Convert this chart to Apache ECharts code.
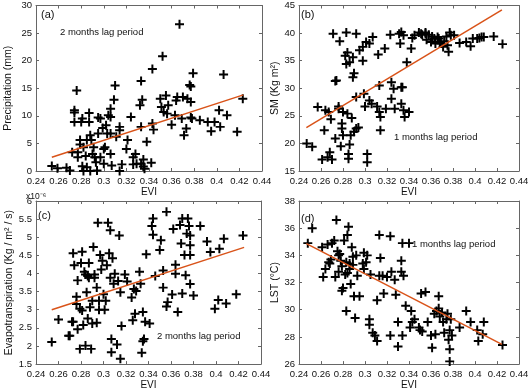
<!DOCTYPE html>
<html>
<head>
<meta charset="utf-8">
<script src="https://cdn.jsdelivr.net/npm/echarts@6/dist/echarts.min.js"></script>
<style>
  html, body { margin: 0; padding: 0; background: #fff; }
  #chart { width: 532px; height: 391px; }
</style>
</head>
<body>
<div id="chart"></div>
<script>
// (a) precipitation vs EVI, 2 months lag
var aEvi = [0.254,0.259,0.267,0.270,0.272,0.274,0.274,0.274,0.276,0.277,
  0.277,0.279,0.279,0.280,0.281,0.281,0.282,0.282,0.284,0.285,
  0.285,0.287,0.287,0.288,0.288,0.289,0.290,0.291,0.292,0.293,
  0.294,0.295,0.295,0.297,0.297,0.299,0.300,0.300,0.301,0.302,
  0.303,0.304,0.306,0.306,0.306,0.306,0.307,0.309,0.310,0.311,
  0.314,0.314,0.314,0.316,0.320,0.321,0.324,0.326,0.326,0.328,
  0.329,0.332,0.333,0.333,0.333,0.334,0.335,0.335,0.336,0.338,
  0.342,0.343,0.343,0.344,0.350,0.351,0.352,0.353,0.355,0.356,
  0.357,0.360,0.363,0.364,0.365,0.367,0.369,0.370,0.371,0.373,
  0.374,0.376,0.377,0.377,0.378,0.377,0.379,0.385,0.392,0.395,
  0.398,0.402,0.403,0.406,0.409,0.418,0.423];
var aPrecip = [0.9,0.5,0.6,0.1,3.4,11.0,8.9,10.6,14.6,2.5,
  3.4,4.8,5.6,8.9,9.5,0.85,4.3,0,2.7,0.7,
  5.6,8.9,10.5,6.5,0,5.6,3.1,4.3,2.5,1.6,
  0.1,9.7,6.8,2.5,9.5,7.8,4.0,1.3,4.3,8.3,
  6.8,10.1,11.3,9.8,6.8,3.1,1.0,12.9,15.5,6.2,
  8.0,7.4,0,1.2,4.0,5.6,9.8,2.5,1.2,3.1,
  1.3,11.9,8.0,16.3,1.3,12.9,2.1,0.8,0.4,5.3,
  1.5,18.5,8.6,7.5,13.1,11.6,20.8,10.7,13.7,10.4,
  11.9,8.4,10.1,12.8,13.4,26.6,9.5,13.4,6.5,7.7,
  13.1,15.6,15.3,9.7,9.5,12.5,17.7,9.2,8.9,7.2,
  8.9,11.0,8.0,17.5,10.1,7.1,13.1];
var fitA = [[0.254, 2.5], [0.4235, 13.8]];

// (b) soil moisture vs EVI, 1 month lag
var bEvi = [0.247,0.252,0.257,0.261,0.263,0.264,0.266,0.267,0.268,0.269,
  0.270,0.271,0.273,0.273,0.274,0.276,0.276,0.277,0.278,0.279,
  0.279,0.280,0.280,0.282,0.283,0.283,0.284,0.284,0.285,0.285,
  0.286,0.286,0.287,0.288,0.289,0.289,0.290,0.290,0.292,0.292,
  0.292,0.294,0.295,0.298,0.298,0.299,0.300,0.301,0.302,0.302,
  0.304,0.304,0.306,0.307,0.311,0.312,0.313,0.313,0.314,0.314,
  0.318,0.319,0.323,0.324,0.324,0.326,0.327,0.331,0.332,0.333,
  0.333,0.333,0.334,0.335,0.335,0.336,0.338,0.340,0.342,0.343,
  0.345,0.349,0.351,0.352,0.355,0.355,0.356,0.358,0.360,0.361,
  0.363,0.364,0.366,0.367,0.368,0.369,0.371,0.372,0.374,0.375,
  0.376,0.377,0.378,0.381,0.386,0.392,0.396,0.398,0.402,0.404,
  0.406,0.408,0.417,0.425];
var bSM = [20.0,19.4,26.6,17.1,22.4,26.0,17.5,25.7,18.4,24.4,
  17.1,39.9,20.9,31.3,31.4,26.7,26.3,38.5,19.5,23.6,
  22.7,21.5,25.7,35.9,40.1,34.4,36.5,25.4,18.1,17.2,
  19.8,34.7,21.5,24.6,35.6,32.0,32.7,22.1,39.9,28.4,
  22.7,22.9,36.9,37.5,35.0,29.0,26.7,38.4,18.1,16.6,
  27.8,38.1,27.2,39.3,26.7,36.1,30.5,25.7,24.8,22.4,
  37.2,26.3,39.7,31.1,28.1,29.9,26.3,39.9,38.1,40.2,
  30.2,27.2,30.2,26.0,39.6,24.8,34.7,25.7,37.2,39.1,
  39.6,40.1,39.9,39.7,40.1,39.9,38.8,39.7,38.4,39.4,
  39.0,38.1,39.3,39.0,38.4,38.1,37.5,38.5,39.4,37.8,
  36.6,40.1,39.6,39.6,38.2,38.4,37.6,39.0,39.0,39.1,
  39.3,39.3,39.4,38.0];
var fitB = [[0.2467, 22.85], [0.4245, 44.2]];

// (c) evapotranspiration (x10^-6) vs EVI, 2 months lag
var cEvi = [0.254,0.260,0.269,0.270,0.272,0.273,0.273,0.274,0.276,0.276,
  0.277,0.277,0.279,0.279,0.280,0.281,0.281,0.282,0.283,0.284,
  0.284,0.285,0.286,0.286,0.287,0.287,0.288,0.289,0.290,0.290,
  0.291,0.292,0.292,0.294,0.294,0.295,0.296,0.296,0.297,0.298,
  0.299,0.300,0.301,0.302,0.303,0.304,0.305,0.306,0.306,0.307,
  0.307,0.308,0.309,0.310,0.312,0.313,0.314,0.315,0.315,0.316,
  0.319,0.321,0.325,0.326,0.327,0.328,0.329,0.332,0.333,0.334,
  0.335,0.335,0.336,0.337,0.338,0.341,0.343,0.344,0.344,0.346,
  0.350,0.351,0.353,0.353,0.356,0.356,0.357,0.361,0.362,0.364,
  0.364,0.366,0.368,0.369,0.370,0.370,0.372,0.373,0.374,0.375,
  0.376,0.377,0.377,0.377,0.377,0.380,0.386,0.392,0.395,0.399,
  0.402,0.403,0.407,0.409,0.418,0.424];
var cET = [2.11,2.73,2.28,2.28,2.67,2.67,4.56,4.23,3.36,3.16,
  3.81,2.46,3.03,1.92,4.29,2.98,4.60,2.58,4.05,3.97,
  2.01,3.48,2.76,3.93,3.88,4.29,3.07,1.92,3.25,2.62,
  4.73,3.97,3.88,3.61,2.64,5.40,3.25,3.00,4.51,4.11,
  4.35,3.43,3.00,3.25,4.23,5.40,4.56,5.19,3.88,2.19,
  1.83,4.42,3.72,3.99,2.04,3.79,5.05,3.48,1.65,2.55,
  3.97,3.78,3.34,2.71,3.57,2.89,3.52,4.05,3.72,1.81,
  2.13,2.94,2.19,2.67,4.53,2.62,5.31,5.52,5.07,3.93,
  4.65,4.92,3.61,4.08,3.09,5.70,3.21,3.42,5.23,4.24,
  3.99,2.94,5.34,4.83,3.45,5.52,4.51,3.95,5.10,5.52,
  5.31,5.05,4.78,4.51,3.71,3.39,5.31,4.88,4.59,3.03,
  3.27,4.68,4.96,3.17,3.43,5.05];
var fitC = [[0.254, 3.0], [0.425, 4.72]];

// (d) land surface temperature vs EVI, 1 month lag
var dEvi = [0.248,0.252,0.261,0.262,0.264,0.266,0.267,0.268,0.269,0.270,
  0.272,0.273,0.274,0.275,0.276,0.276,0.277,0.278,0.279,0.279,
  0.280,0.281,0.282,0.283,0.283,0.284,0.284,0.285,0.286,0.286,
  0.287,0.288,0.289,0.289,0.290,0.291,0.292,0.293,0.295,0.298,
  0.299,0.299,0.301,0.302,0.304,0.304,0.305,0.307,0.309,0.311,
  0.311,0.313,0.313,0.314,0.316,0.317,0.320,0.323,0.323,0.324,
  0.327,0.328,0.330,0.330,0.333,0.333,0.334,0.334,0.335,0.337,
  0.340,0.341,0.342,0.343,0.345,0.349,0.350,0.351,0.352,0.355,
  0.357,0.360,0.361,0.363,0.364,0.365,0.367,0.367,0.368,0.370,
  0.371,0.372,0.374,0.375,0.376,0.377,0.377,0.377,0.378,0.379,
  0.386,0.392,0.396,0.402,0.403,0.407,0.408,0.425];
var dLST = [34.9,36.0,34.6,32.4,33.0,34.8,33.5,33.4,33.7,34.9,
  35.1,32.4,36.6,34.3,34.0,32.8,34.1,33.6,31.4,33.2,
  31.6,35.1,32.6,33.5,29.9,35.5,32.7,36.1,33.4,33.0,
  31.9,34.6,33.9,33.3,31.0,29.4,34.0,32.5,31.0,33.4,
  34.2,33.0,33.5,34.0,29.3,28.9,32.6,28.3,28.1,27.7,
  30.7,35.5,32.5,33.8,32.5,31.2,32.4,35.4,28.1,32.8,
  32.2,31.1,27.3,29.1,33.6,32.8,34.9,28.1,32.5,30.3,
  34.9,28.7,29.9,29.1,29.3,28.7,28.5,31.2,28.4,31.3,
  29.1,28.1,27.2,29.7,28.2,29.9,30.1,31.0,29.5,29.8,
  29.1,28.3,29.3,29.7,27.8,28.5,27.1,26.2,29.3,28.1,
  28.7,29.9,29.1,28.5,27.7,28.2,29.1,27.4];
var fitD = [[0.2467, 34.86], [0.4245, 27.45]];

var FONT = '"Liberation Sans", Arial, sans-serif';
var AXIS_COLOR = '#666';
var PLUS = 'path://M3.9,0H6.1V3.9H10V6.1H6.1V10H3.9V6.1H0V3.9H3.9Z';

function zip(xs, ys) {
  var out = [];
  for (var i = 0; i < xs.length; i++) out.push([xs[i], ys[i]]);
  return out;
}

// bottom axis with labels + top axis as the box edge
function xAxes(g) {
  var base = {
    gridIndex: g, type: 'value', min: 0.24, max: 0.44, interval: 0.02,
    splitLine: { show: false },
    axisLine: { show: true, onZero: false, lineStyle: { color: AXIS_COLOR, width: 1 } },
    axisTick: { show: true, inside: true, length: 3, lineStyle: { color: AXIS_COLOR } }
  };
  return [
    Object.assign({}, base, {
      position: 'bottom', name: 'EVI', nameLocation: 'middle', nameGap: 13,
      nameTextStyle: { fontSize: 10, color: '#111', fontFamily: FONT },
      axisLabel: { margin: 5, fontSize: 9.5, color: '#111', fontFamily: FONT,
        formatter: function (v) { return String(+v.toFixed(2)); } }
    }),
    Object.assign({}, base, { position: 'top', axisLabel: { show: false } })
  ];
}

function yAxes(g, min, max, interval, name, gap) {
  var base = {
    gridIndex: g, type: 'value', min: min, max: max, interval: interval,
    splitLine: { show: false },
    axisLine: { show: true, onZero: false, lineStyle: { color: AXIS_COLOR, width: 1 } },
    axisTick: { show: true, inside: true, length: 3, lineStyle: { color: AXIS_COLOR } }
  };
  return [
    Object.assign({}, base, {
      position: 'left', name: name, nameLocation: 'middle', nameGap: gap,
      nameTextStyle: { fontSize: 10.5, color: '#111', fontFamily: FONT },
      axisLabel: { margin: 4, fontSize: 9.5, color: '#111', fontFamily: FONT }
    }),
    Object.assign({}, base, { position: 'right', axisLabel: { show: false } })
  ];
}

function panelSeries(g, pts, fit) {
  return [
    {
      type: 'scatter', xAxisIndex: 2 * g, yAxisIndex: 2 * g,
      data: pts, symbol: PLUS, symbolSize: 9,
      itemStyle: { color: '#000', opacity: 1 }, z: 2
    },
    {
      type: 'line', xAxisIndex: 2 * g, yAxisIndex: 2 * g,
      data: fit, showSymbol: false, symbol: 'none',
      lineStyle: { color: '#D95319', width: 1.5 }, z: 3
    }
  ];
}

function label(text, left, top, size) {
  return {
    type: 'text', left: left, top: top,
    style: { text: text, font: size + 'px ' + FONT, fill: '#111' }
  };
}

var chart = echarts.init(document.getElementById('chart'));
var option = {
  animation: false,
  textStyle: { fontFamily: FONT },
  grid: [
    { left: 36, top: 5.5, width: 226, height: 165.5 },
    { left: 299, top: 5.5, width: 220, height: 165.5 },
    { left: 36, top: 201, width: 225, height: 165 },
    { left: 299, top: 201, width: 220, height: 165 }
  ],
  xAxis: [].concat(xAxes(0), xAxes(1), xAxes(2), xAxes(3)),
  yAxis: [].concat(
    yAxes(0, 0, 30, 5, 'Precipitation (mm)', 22),
    yAxes(1, 15, 45, 5, 'SM (Kg m\u00b2)', 18),
    yAxes(2, 1.5, 6, 0.5, 'Evapotranspiration (Kg / m\u00b2 / s)', 21),
    yAxes(3, 26, 38, 2, 'LST (\u00b0C)', 18)
  ),
  series: [].concat(
    panelSeries(0, zip(aEvi, aPrecip), fitA),
    panelSeries(1, zip(bEvi, bSM), fitB),
    panelSeries(2, zip(cEvi, cET), fitC),
    panelSeries(3, zip(dEvi, dLST), fitD)
  ),
  graphic: [
    label('(a)', 41, 9, 11),
    label('2 months lag period', 60, 27, 9.5),
    label('(b)', 301, 9, 11),
    label('1 months lag period', 394, 132, 9.5),
    label('(c)', 38, 210, 11),
    label('2 months lag period', 157, 331, 9.5),
    label('(d)', 301, 213, 11),
    label('1 months lag period', 412, 239, 9.5),
    label('x10\u207b\u2076', 26, 192, 8.5)
  ]
};
chart.setOption(option);
</script>
</body>
</html>
